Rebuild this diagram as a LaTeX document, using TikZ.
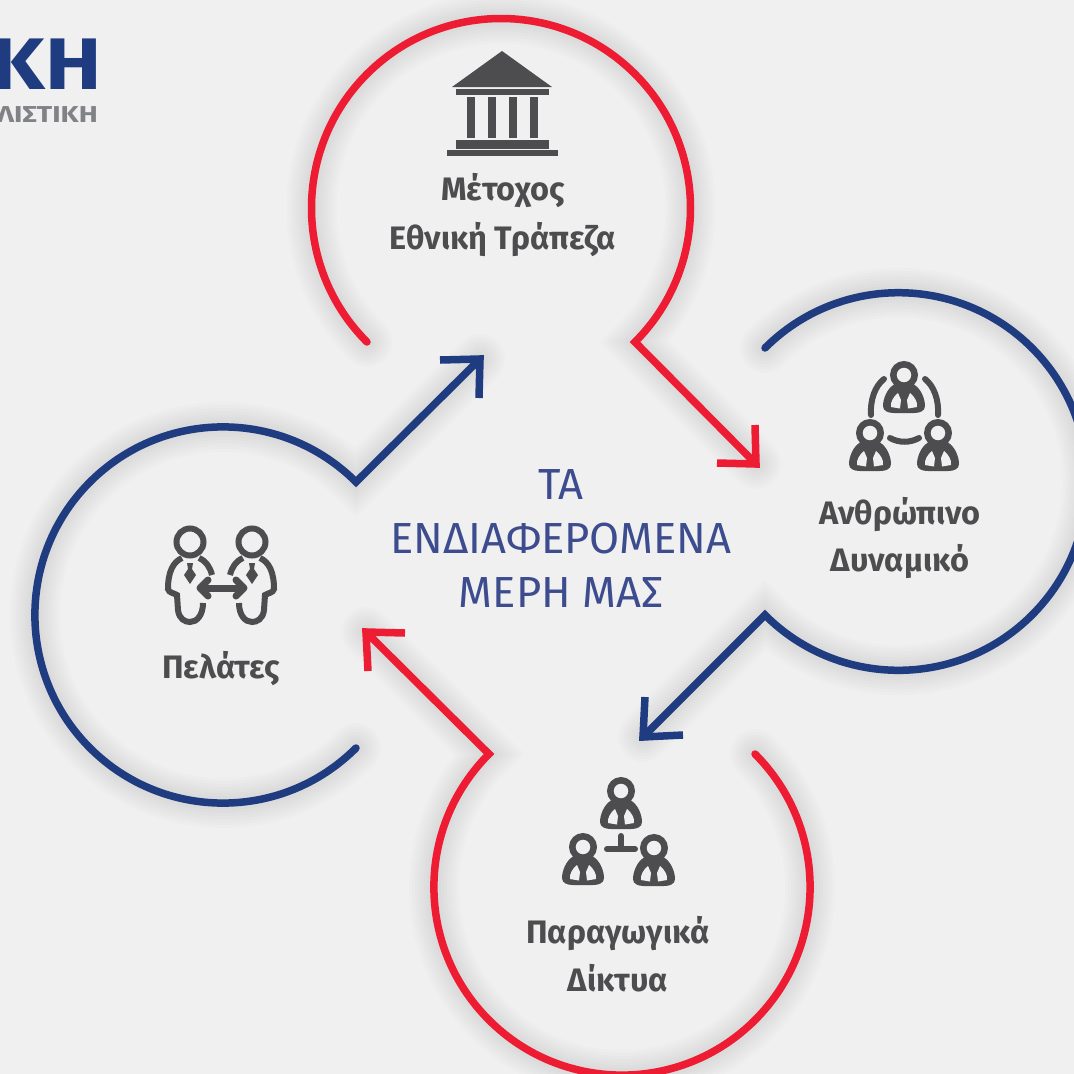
\documentclass[tikz,border=0pt]{standalone}
\usepackage{fontspec}
\setmainfont{Fira Sans}
\definecolor{pagebg}{HTML}{F0F0F0}
\definecolor{ringred}{HTML}{EE1C33}
\definecolor{ringblue}{HTML}{1F3C80}
\definecolor{icongray}{HTML}{4D4D4F}
\definecolor{midblue}{HTML}{3D4C8E}
\definecolor{loggray}{HTML}{808285}
\newcommand{\softring}[2]{%
  \foreach \w in {50,44,38,32,26,20,14,8}{%
    \draw[shift={(5,14)},line width=\w pt,black,opacity=.012,line cap=round,line join=miter] #2;
  }%
}
\newcommand{\inkring}[2]{\draw[line width=7.5pt,line cap=round,line join=miter,miter limit=10,#1] #2;}
\tikzset{
  caption/.style={font=\fontsize{32.5}{32}\selectfont\bfseries,text=icongray,align=center,inner sep=0pt},
  midtitle/.style={font=\fontsize{43.5}{44}\selectfont,text=midblue,inner sep=0pt},
  iconline/.style={draw=icongray,line width=6pt,line cap=round},
  pics/staff/.style={code={
    \draw[draw=icongray,line width=6.5pt,fill=none] (0,0) circle[radius=10.7];
    \fill[icongray] (-9,9) .. controls (-17,13) and (-21,24) .. (-21,31) .. controls (-21,36) and (-16,38) .. (-10,38) -- (10,38) .. controls (16,38) and (21,36) .. (21,31) .. controls (21,24) and (17,13) .. (9,9) -- cycle;
    \fill[pagebg] (-6,18) .. controls (-10,21) and (-14,27) .. (-13,32) -- (-4,33.5) -- (-3,25) -- cycle;
    \fill[pagebg] (6,18) .. controls (10,21) and (14,27) .. (13,32) -- (4,33.5) -- (3,25) -- cycle;
  }},
  pics/dealer/.style={code={
    \draw[draw=icongray,line width=6pt,fill=none] (0,0) circle[radius=13.5];
    \draw[iconline,line cap=butt] (-8,16) .. controls (-17,20) and (-22,30) .. (-22,47) .. controls (-21,51) and (-16,51) .. (-13,53) -- (-12,68) .. controls (-11,77) and (-5,80) .. (0,80) .. controls (7,80) and (13,73) .. (13,61);
    \draw[iconline,line cap=butt] (9,16) .. controls (16,19) and (20,25) .. (22,33);
    \fill[icongray] (-3,21) -- (3,21) -- (2,27) -- (6,33) -- (0,42) -- (-6,33) -- (-2,27) -- cycle;
  }},
}
\begin{document}
\begin{tikzpicture}[x=1pt,y=-1pt]
\useasboundingbox (0,0) rectangle (1074,1074);
\clip (0,0) rectangle (1074,1074);
\fill[pagebg] (0,0) rectangle (1074,1074);

% logo
\node[anchor=base east,inner sep=0pt,xscale=1.16,font=\fontsize{73}{73}\selectfont\bfseries,text=ringblue] (logomain) at (102,89) {ΚΗ};
\node[anchor=base east,inner sep=0pt,xscale=1.24,font=\fontsize{23}{23}\selectfont\bfseries,text=loggray] (logosub) at (98,122) {ΛΙΣΤΙΚΗ};

% ends of the rings and tips of the arrows
\coordinate (topA) at (367,342);
\coordinate (topTip) at (756,464);
\coordinate (topH1) at (755,425);
\coordinate (topH2) at (717,463);
\coordinate (rightA) at (765,348);
\coordinate (rightTip) at (643,737);
\coordinate (rightH1) at (683,735);
\coordinate (rightH2) at (645,697);
\coordinate (botA) at (755,754);
\coordinate (botTip) at (366,632);
\coordinate (botH1) at (405,633);
\coordinate (botH2) at (368,671);
\coordinate (leftA) at (356,748);
\coordinate (leftTip) at (480,359);
\coordinate (leftH1) at (440,360);
\coordinate (leftH2) at (479,398);

\def\ringT{(topA) arc[start angle=135,end angle=405,radius=189.5] -- (topTip)}
\def\ringR{(rightA) arc[start angle=225,end angle=495,radius=188.8] -- (rightTip)}
\def\ringB{(botA) arc[start angle=-45,end angle=225,radius=188.1] -- (botTip)}
\def\ringL{(leftA) arc[start angle=45,end angle=315,radius=188.1] -- (leftTip)}

\softring{}{\ringT}
\softring{}{\ringR}
\softring{}{\ringB}
\softring{}{\ringL}

\inkring{ringred}{\ringT}
\inkring{ringred,line cap=butt}{(topH1) -- (topTip) -- (topH2)}
\inkring{ringblue}{\ringR}
\inkring{ringblue,line cap=butt}{(rightH1) -- (rightTip) -- (rightH2)}
\inkring{ringred}{\ringB}
\inkring{ringred,line cap=butt}{(botH1) -- (botTip) -- (botH2)}
\inkring{ringblue}{\ringL}
\inkring{ringblue,line cap=butt}{(leftH1) -- (leftTip) -- (leftH2)}

% bank icon
\fill[icongray] (502,51) -- (552,87) -- (452,87) -- cycle;
\fill[icongray] (456,89) rectangle (549,95);
\foreach \c in {467,488,509,530}{\fill[icongray] (\c,97) rectangle (\c+8,138);}
\fill[icongray] (456,140) rectangle (549,149);
\fill[icongray] (447,150) rectangle (558,156);

% people, right circle
\pic at (904,375) {staff};
\pic at (870,433) {staff};
\pic at (938,433) {staff};
\draw[iconline] (884,379) .. controls (875,386) and (870,400) .. (871,415);
\draw[iconline] (925,379) .. controls (934,386) and (939,400) .. (938,415);
\draw[iconline] (890,438) .. controls (899,443) and (910,443) .. (919,438);

% people, bottom circle
\pic at (621,791) {staff};
\pic at (583,847) {staff};
\pic at (654,848) {staff};
\draw[iconline] (621,836) -- (621,849);
\draw[iconline] (607,849) -- (635,849);

% people, left circle
\pic at (190,542) {dealer};
\pic[xscale=-1] at (252,542) {dealer};
\draw[icongray,line width=7pt] (204,588) -- (240,588);
\draw[iconline,line join=round,line width=7pt] (208,580) -- (200,588) -- (208,596);
\draw[iconline,line join=round,line width=7pt] (236,580) -- (244,588) -- (236,596);

% texts
\node[caption] (shareholder) at (503,215) {Μέτοχος\\[13pt]Εθνική Τράπεζα};
\node[caption] (staffcap) at (900,538) {Ανθρώπινο\\[11pt]Δυναμικό};
\node[caption] (netcap) at (618,954) {Παραγωγικά\\[12pt]Δίκτυα};
\node[caption] (clients) at (221,669) {Πελάτες};
\node[midtitle] (t1) at (561,485) {ΤΑ};
\node[midtitle] (t2) at (561,539) {ΕΝΔΙΑΦΕΡΟΜΕΝΑ};
\node[midtitle] (t3) at (561,593) {ΜΕΡΗ ΜΑΣ};
\end{tikzpicture}
\end{document}
